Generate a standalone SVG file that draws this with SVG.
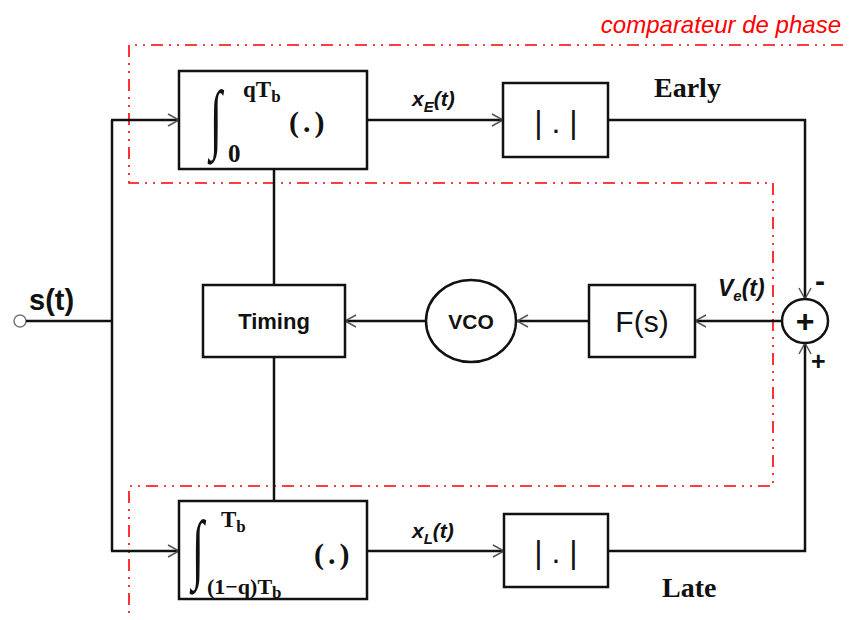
<svg xmlns="http://www.w3.org/2000/svg" width="849" height="620" viewBox="0 0 849 620">
<style>
.ln{stroke:#111;stroke-width:2.5;fill:none}
.bx{stroke:#111;stroke-width:2.5;fill:#fff}
.red{stroke:#f00;stroke-width:1.6;fill:none;stroke-dasharray:12 6 2 6 2 6}
.sans{font-family:"Liberation Sans",Arial,sans-serif;fill:#111}
.serif{font-family:"Liberation Serif","Times New Roman",serif;fill:#111;font-weight:bold}
.intg{font-family:"Liberation Serif","Times New Roman",serif;fill:#111;font-weight:normal;font-style:italic}
</style>
<defs>
<marker id="arr" markerWidth="14" markerHeight="14" refX="12" refY="7" orient="auto" markerUnits="userSpaceOnUse">
<path d="M1,1 L12,7 L1,13" fill="none" stroke="#555" stroke-width="1.5"/>
</marker>
</defs>
<rect width="849" height="620" fill="#fff"/>
<path class="red" d="M843,45 H129 V183 H773 V486 H129 V615"/>
<text x="841" y="33" text-anchor="end" font-family="Liberation Sans,Arial,sans-serif" font-style="italic" font-size="24" fill="#f00">comparateur de phase</text>
<g id="connectors">
<circle cx="20" cy="321" r="6" fill="#fff" stroke="#777" stroke-width="1.5"/>
<line class="ln" x1="26" y1="321" x2="112" y2="321"/>
<polyline class="ln" points="112,120 112,551"/>
<line class="ln" x1="111" y1="120" x2="179" y2="120" marker-end="url(#arr)"/>
<line class="ln" x1="111" y1="551" x2="179" y2="551" marker-end="url(#arr)"/>
<line class="ln" x1="367" y1="120" x2="503" y2="120" marker-end="url(#arr)"/>
<line class="ln" x1="367" y1="551" x2="504" y2="551" marker-end="url(#arr)"/>
<polyline class="ln" points="608,120 805,120 805,299" marker-end="url(#arr)"/>
<polyline class="ln" points="608,551 805,551 805,343" marker-end="url(#arr)"/>
<line class="ln" x1="782" y1="321" x2="695" y2="321" marker-end="url(#arr)"/>
<line class="ln" x1="589" y1="321" x2="517" y2="321" marker-end="url(#arr)"/>
<line class="ln" x1="426" y1="321" x2="345" y2="321" marker-end="url(#arr)"/>
<line class="ln" x1="274" y1="169" x2="274" y2="285"/>
<line class="ln" x1="274" y1="357" x2="274" y2="501"/>
<text x="412" y="106" class="sans" font-style="italic" font-weight="bold" font-size="21">x<tspan font-size="15" dy="6">E</tspan><tspan dy="-6">(t)</tspan></text>
<text x="412" y="538" class="sans" font-style="italic" font-weight="bold" font-size="21">x<tspan font-size="15" dy="6">L</tspan><tspan dy="-6">(t)</tspan></text>
<text x="718" y="296" class="sans" font-style="italic" font-weight="bold" font-size="23">V<tspan font-size="15" dy="5">e</tspan><tspan dy="-5">(t)</tspan></text>
<text x="654" y="97" class="serif" font-size="28">Early</text>
<text x="662" y="597" class="serif" font-size="28">Late</text>
<text x="29" y="310" class="sans" font-weight="bold" font-size="29">s(t)</text>
</g>
<g id="integrator-early">
<rect class="bx" x="179" y="71" width="188" height="98"/>
<text transform="translate(210,144) scale(1,1.75)" class="intg" font-size="44">∫</text>
<text x="243" y="97" class="serif" font-size="23">qT<tspan font-size="17" dy="5">b</tspan></text>
<text x="228" y="162" class="serif" font-size="25">0</text>
<text x="289" y="132" class="serif" font-weight="normal" font-size="30">(<tspan dx="4">.</tspan><tspan dx="4">)</tspan></text>
</g>
<g id="integrator-late">
<rect class="bx" x="179" y="501" width="188" height="98"/>
<text transform="translate(192,574) scale(1,1.75)" class="intg" font-size="44">∫</text>
<text x="221" y="527" class="serif" font-size="23">T<tspan font-size="17" dy="5">b</tspan></text>
<text x="207" y="594" class="serif" font-size="22">(1−q)T<tspan font-size="17" dy="4">b</tspan></text>
<text x="314" y="564" class="serif" font-weight="normal" font-size="30">(<tspan dx="4">.</tspan><tspan dx="4">)</tspan></text>
</g>
<g id="abs-early">
<rect class="bx" x="503" y="83" width="105" height="74"/>
<text x="556" y="133" text-anchor="middle" class="sans" font-size="32">| . |</text>
</g>
<g id="abs-late">
<rect class="bx" x="504" y="514" width="104" height="73"/>
<text x="556" y="563" text-anchor="middle" class="sans" font-size="32">| . |</text>
</g>
<g id="timing">
<rect class="bx" x="203" y="285" width="142" height="72"/>
<text x="274" y="329" text-anchor="middle" class="sans" font-weight="bold" font-size="22">Timing</text>
</g>
<g id="vco">
<ellipse class="bx" cx="471" cy="321" rx="45" ry="41"/>
<text x="471" y="329" text-anchor="middle" class="sans" font-weight="bold" font-size="21">VCO</text>
</g>
<g id="filter">
<rect class="bx" x="589" y="285" width="106" height="72"/>
<text x="642" y="332" text-anchor="middle" class="sans" font-size="30">F(s)</text>
</g>
<g id="summer">
<ellipse class="bx" cx="805" cy="321" rx="23" ry="22"/>
<text x="805" y="332" text-anchor="middle" class="sans" font-weight="bold" font-size="32">+</text>
<text x="815" y="291" class="sans" font-weight="bold" font-size="30">-</text>
<text x="811" y="370" class="sans" font-weight="bold" font-size="25">+</text>
</g>
</svg>
